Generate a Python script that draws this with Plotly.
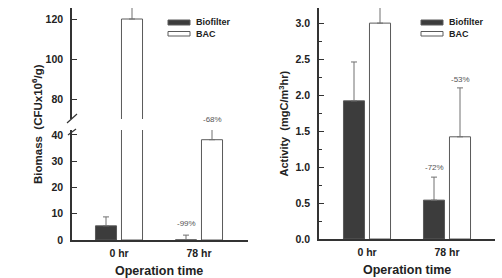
import plotly.graph_objects as go

W, H = 502, 278

categories = ["0 hr", "78 hr"]
series_names = ["Biofilter", "BAC"]

biomass_biofilter = [5.4, 0.06]
biomass_biofilter_err = [3.4, 1.8]
biomass_bac = [120.0, 38.2]
biomass_bac_err = [8.0, 4.5]

activity_biofilter = [1.92, 0.54]
activity_biofilter_err = [0.54, 0.32]
activity_bac = [3.0, 1.42]
activity_bac_err = [0.3, 0.68]

biomass_labels = ["-99%", "-68%"]      # 78 hr: Biofilter, BAC
activity_labels = ["-72%", "-53%"]
activity_label_y = [1.0, 2.21]

FONT = "Liberation Sans, Arial, sans-serif"
DARK = "#3c3c3c"
EDGE = "#5a5a5a"
AX = "#333333"
ERR = "#707070"


def px(x):
    return x / W


def py(y):
    return 1 - y / H


def err(arr):
    return dict(type="data", symmetric=False, array=arr, arrayminus=[0] * len(arr),
                color=ERR, thickness=1, width=3)


fig = go.Figure()

# left panel: lower (y) and upper (y2) segments
for yax in ["y", "y2"]:
    fig.add_trace(go.Bar(x=categories, y=biomass_biofilter, name=series_names[0],
                         marker=dict(color=DARK, line=dict(color=EDGE, width=1)),
                         error_y=err(biomass_biofilter_err), xaxis="x", yaxis=yax,
                         showlegend=False))
    fig.add_trace(go.Bar(x=categories, y=biomass_bac, name=series_names[1],
                         marker=dict(color="white", line=dict(color=EDGE, width=1)),
                         error_y=err(biomass_bac_err), xaxis="x", yaxis=yax,
                         showlegend=False))

# right panel
fig.add_trace(go.Bar(x=categories, y=activity_biofilter, name=series_names[0],
                     marker=dict(color=DARK, line=dict(color=EDGE, width=1)),
                     error_y=err(activity_biofilter_err), xaxis="x2", yaxis="y3",
                     showlegend=False))
fig.add_trace(go.Bar(x=categories, y=activity_bac, name=series_names[1],
                     marker=dict(color="white", line=dict(color=EDGE, width=1)),
                     error_y=err(activity_bac_err), xaxis="x2", yaxis="y3",
                     showlegend=False))

tickfont = dict(family=FONT, size=10.5, color="#222", weight="bold")
common_y = dict(showline=True, linecolor=AX, linewidth=1.5, ticks="inside", ticklen=5,
                tickwidth=1.2, tickcolor=AX, showgrid=False, zeroline=False,
                tickfont=tickfont, automargin=False, ticklabelstandoff=5)
common_x = dict(showline=True, linecolor=AX, linewidth=1.5, ticks="", showgrid=False,
                zeroline=False, tickfont=tickfont, type="category", automargin=False,
                ticklabelstandoff=3)

left_dom = [px(72), px(248)]
right_dom = [px(319), px(495)]

fig.update_layout(
    template="none",
    width=W, height=H,
    margin=dict(l=0, r=0, t=0, b=0, pad=0),
    paper_bgcolor="white", plot_bgcolor="white",
    barmode="group", bargap=0.35, bargroupgap=0.19,
    xaxis=dict(domain=left_dom, anchor="y", range=[-0.5875, 1.6125], **common_x),
    yaxis=dict(domain=[py(240), py(130)], anchor="x", range=[0, 41.9],
               tickvals=[0, 10, 20, 30, 40], **common_y),
    yaxis2=dict(domain=[py(119), py(8)], anchor="x", range=[70, 125.5],
                tickvals=[80, 100, 120], **common_y),
    xaxis2=dict(domain=right_dom, anchor="y3", range=[-0.6, 1.6], **common_x),
    yaxis3=dict(domain=[py(239), py(8)], anchor="x2", range=[0, 3.21],
                tickvals=[0, 0.5, 1.0, 1.5, 2.0, 2.5, 3.0], tickformat=".1f",
                minor=dict(dtick=0.25, tick0=0, ticks="inside", ticklen=3,
                           tickcolor=AX, tickwidth=1),
                **common_y),
)

anns = []
shapes = []
pct_font = dict(family=FONT, size=8, color="#555")
# percentage labels (left panel placed in paper y so the one in the axis gap shows)
for i, (txt, ypx) in enumerate(zip(biomass_labels, [223, 119])):
    anns.append(dict(x=categories[1], y=py(ypx), xref="x", yref="paper", text=txt,
                     xshift=-13 if i == 0 else 13, showarrow=False,
                     yanchor="middle", font=pct_font))
for i, (txt, yv) in enumerate(zip(activity_labels, activity_label_y)):
    anns.append(dict(x=categories[1], y=yv, xref="x2", yref="y3", text=txt,
                     xshift=-13 if i == 0 else 13, showarrow=False,
                     yanchor="middle", font=pct_font))

# axis titles
title_font = dict(family=FONT, size=11, color="#222", weight="bold")
anns.append(dict(x=px(37), y=py(124), xref="paper", yref="paper", showarrow=False,
                 xanchor="center", yanchor="middle",
                 text="Biomass  (CFUx10<sup>6</sup>/g)", textangle=-90,
                 font=dict(family=FONT, size=11.5, color="#222", weight="bold")))
anns.append(dict(x=px(283), y=py(123.5), xref="paper", yref="paper", showarrow=False,
                 xanchor="center", yanchor="middle",
                 text="Activity  (mgC/m<sup>3</sup>hr)", textangle=-90, font=title_font))
xt_font = dict(family=FONT, size=12.5, color="#222", weight="bold")
anns.append(dict(x=px(159), y=py(271), xref="paper", yref="paper", showarrow=False,
                 xanchor="center", yanchor="middle",
                 text="Operation time", font=xt_font))
anns.append(dict(x=px(407), y=py(270), xref="paper", yref="paper", showarrow=False,
                 xanchor="center", yanchor="middle",
                 text="Operation time", font=xt_font))

# legends
leg_font = dict(family=FONT, size=9, color="#222", weight="bold")
for x0 in (168, 421):
    shapes.append(dict(type="rect", xref="paper", yref="paper",
                       x0=px(x0), x1=px(x0 + 22), y0=py(25), y1=py(20),
                       fillcolor=DARK, line=dict(color=EDGE, width=1)))
    shapes.append(dict(type="rect", xref="paper", yref="paper",
                       x0=px(x0), x1=px(x0 + 22), y0=py(36), y1=py(31.5),
                       fillcolor="white", line=dict(color=EDGE, width=1)))
    anns.append(dict(x=px(x0 + 26), y=py(22.5), xref="paper", yref="paper",
                     showarrow=False, xanchor="left", yanchor="middle",
                     text=series_names[0], font=leg_font))
    anns.append(dict(x=px(x0 + 26), y=py(34), xref="paper", yref="paper",
                     showarrow=False, xanchor="left", yanchor="middle",
                     text=series_names[1], font=leg_font))

# axis break marks
for (x0, y0, x1, y1) in [(67, 123, 77, 114), (68, 135, 76, 129)]:
    shapes.append(dict(type="line", xref="paper", yref="paper",
                       x0=px(x0), y0=py(y0), x1=px(x1), y1=py(y1),
                       line=dict(color=AX, width=1.2)))

fig.update_layout(annotations=anns, shapes=shapes)
fig.write_html("out.html")
